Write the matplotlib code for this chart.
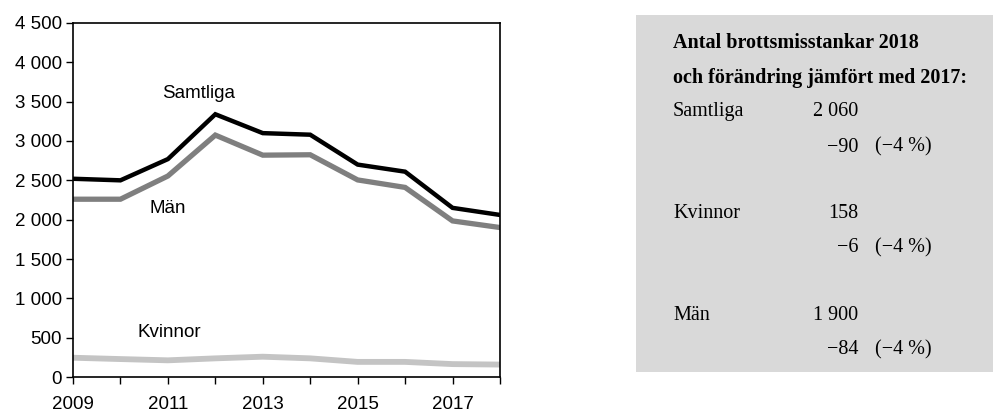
import matplotlib
matplotlib.use("Agg")
import matplotlib.pyplot as plt
from matplotlib.patches import Rectangle
from matplotlib.ticker import FuncFormatter

years = [2009, 2010, 2011, 2012, 2013, 2014, 2015, 2016, 2017, 2018]
samtliga = [2520, 2500, 2770, 3340, 3100, 3080, 2700, 2610, 2150, 2060]
man = [2260, 2260, 2555, 3075, 2820, 2825, 2505, 2410, 1984, 1900]
kvinnor = [245, 228, 212, 237, 258, 237, 192, 192, 164, 158]

xtick_years = [2009, 2011, 2013, 2015, 2017]
yticks = list(range(0, 4501, 500))

panel_title = ["Antal brottsmisstankar 2018", "och förändring jämfört med 2017:"]
panel_groups = ["Samtliga", "Kvinnor", "Män"]
panel_values = ["2 060", "158", "1 900"]
panel_changes = ["\u221290", "\u22126", "\u221284"]
panel_pcts = ["(\u22124 %)", "(\u22124 %)", "(\u22124 %)"]

fig = plt.figure(figsize=(9.93, 4.09), dpi=100)
ax = fig.add_axes([73/993, 1-377/409, (500-73)/993, (377-23)/409])

ax.plot(years, kvinnor, color="#c4c4c4", lw=4.2, solid_joinstyle="round")
ax.plot(years, man, color="#7f7f7f", lw=3.8, solid_joinstyle="miter")
ax.plot(years, samtliga, color="#000000", lw=3.2, solid_joinstyle="miter")

ax.set_xlim(2009, 2018)
ax.set_ylim(0, 4500)
ax.set_yticks(yticks)
ax.set_xticks(years)
ax.set_xticklabels([str(y) if y in xtick_years else "" for y in years])
ax.yaxis.set_major_formatter(FuncFormatter(lambda v, p: f"{int(v):,}".replace(",", " ")))
for lab in ax.get_xticklabels() + ax.get_yticklabels():
    lab.set_fontfamily("Liberation Sans")
    lab.set_fontsize(13.5)
ax.tick_params(axis="y", direction="out", length=5, width=1, pad=3)
ax.tick_params(axis="x", direction="out", length=5, width=1, pad=9)
for s in ax.spines.values():
    s.set_linewidth(1.2)

lab_font = dict(family="Liberation Sans", fontsize=13.5, color="black", ha="center", va="center")
ax.text(2011.64, 3600, "Samtliga", **lab_font)
ax.text(2011.0, 2136, "Män", **lab_font)
ax.text(2011.03, 572, "Kvinnor", **lab_font)

# right panel
fig.patches.append(Rectangle((636/993, 1-372/409), (993-636)/993, (372-15)/409,
                             transform=fig.transFigure, facecolor="#d9d9d9",
                             edgecolor="none", zorder=0))

def fy(py):
    return 1 - py/409

serif = dict(family="Liberation Serif", fontsize=14.5, color="black", va="center")
fig.text(673/993, fy(43), panel_title[0], fontweight="bold", ha="left", **serif)
fig.text(673/993, fy(78), panel_title[1], fontweight="bold", ha="left", **serif)
rows = [112, 213, 315]
for i, r in enumerate(rows):
    fig.text(673/993, fy(r), panel_groups[i], ha="left", **serif)
    fig.text(858/993, fy(r), panel_values[i], ha="right", **serif)
    fig.text(858/993, fy(r+35), panel_changes[i], ha="right", **serif)
    fig.text(875/993, fy(r+35), panel_pcts[i], ha="left", **serif)

fig.savefig("out.png", dpi=100)
